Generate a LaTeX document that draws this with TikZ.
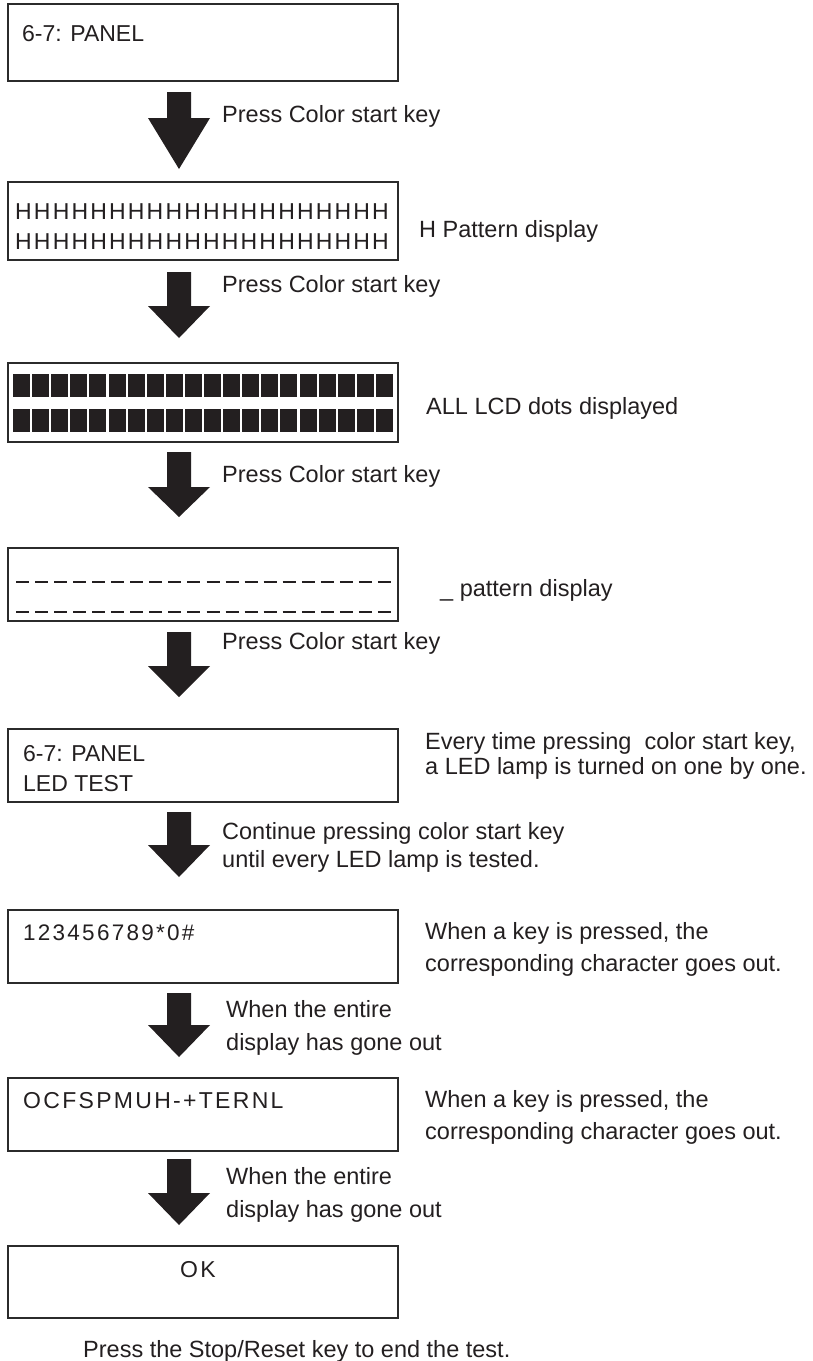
\documentclass[tikz,border=0pt]{standalone}
\usepackage{fontspec}
\setmainfont{Liberation Sans}
\newfontfamily\lcdfont[LetterSpace=10]{Liberation Sans}
\newfontfamily\hfont[LetterSpace=9.5]{Liberation Sans}
\definecolor{ink}{HTML}{231F20}
\definecolor{edge}{HTML}{2B2B2B}
\newcommand\blkarrow[3]{\fill[ink] (167,#1) -- (191,#1) -- (191,#2) -- (210,#2) -- (179,#3) -- (148,#2) -- (167,#2) -- cycle;}
\begin{document}
\begin{tikzpicture}[x=1pt,y=-1pt,
  box/.style={draw=edge,line width=2pt,anchor=north west,minimum width=390pt,inner sep=0pt,outer sep=0pt},
  lbl/.style={anchor=base west,inner sep=0pt,font=\fontsize{23.5}{28}\selectfont,text=ink},
  boxtxt/.style={anchor=base west,inner sep=0pt,font=\fontsize{23}{27}\selectfont,text=ink},
  lcdtxt/.style={anchor=base west,inner sep=0pt,text=ink},
  dot/.style={fill=ink},
  dashline/.style={draw=ink,line width=2.5pt,dash pattern=on 13pt off 6.05pt}
]
\useasboundingbox (0,0) rectangle (812,1361);
% box 1
\node[box,minimum height=77pt] (b1) at (8,4) {};
\node[boxtxt] (t1) at (22,41) {6-7: PANEL};
\blkarrow{92}{118}{169}
\node[lbl] (a1) at (222,122) {Press Color start key};
% box 2
\node[box,minimum height=78pt] (b2) at (8,182) {};
\node[lcdtxt,font=\hfont\fontsize{23}{27}\selectfont] (h1) at (15,219) {HHHHHHHHHHHHHHHHHHHH};
\node[lcdtxt,font=\hfont\fontsize{23}{27}\selectfont] (h2) at (15,249) {HHHHHHHHHHHHHHHHHHHH};
\node[lbl] (d2) at (419,237) {H Pattern display};
\blkarrow{272}{306}{338}
\node[lbl] (a2) at (222,292) {Press Color start key};
% box 3
\node[box,minimum height=79pt] (b3) at (8,363) {};
\foreach \i in {0,...,19} {
  \fill[dot] ({13+\i*19.1},374) rectangle ({30+\i*19.1},397);
  \fill[dot] ({13+\i*19.1},409) rectangle ({30+\i*19.1},432);
}
\node[lbl] (d3) at (426,414) {ALL LCD dots displayed};
\blkarrow{452}{487}{517}
\node[lbl] (a3) at (222,482) {Press Color start key};
% box 4
\node[box,minimum height=73pt] (b4) at (8,548) {};
\draw[dashline] (16,582) -- (391,582);
\draw[dashline] (16,612) -- (391,612);
\node[lbl] (d4) at (440,596) {\_ pattern display};
\blkarrow{632}{666}{697}
\node[lbl] (a4) at (222,649) {Press Color start key};
% box 5
\node[box,minimum height=73pt] (b5) at (8,729) {};
\node[boxtxt] (t5a) at (23,761) {6-7: PANEL};
\node[boxtxt] (t5b) at (23,791) {LED TEST};
\node[lbl] (d5a) at (425,749) {Every time pressing\ \ color start key,};
\node[lbl] (d5b) at (425,774) {a LED lamp is turned on one by one.};
\blkarrow{812}{845}{877}
\node[lbl] (a5a) at (222,839) {Continue pressing color start key};
\node[lbl] (a5b) at (222,867) {until every LED lamp is tested.};
% box 6
\node[box,minimum height=73pt] (b6) at (8,910) {};
\node[lcdtxt,font=\lcdfont\fontsize{22.5}{26}\selectfont] (t6) at (23,940) {123456789*0\#};
\node[lbl] (d6a) at (425,939) {When a key is pressed, the};
\node[lbl] (d6b) at (425,971) {corresponding character goes out.};
\blkarrow{993}{1025}{1057}
\node[lbl] (a6a) at (226,1017) {When the entire};
\node[lbl] (a6b) at (226,1050) {display has gone out};
% box 7
\node[box,minimum height=73pt] (b7) at (8,1078) {};
\node[lcdtxt,font=\lcdfont\fontsize{23}{27}\selectfont] (t7) at (23,1108) {OCFSPMUH-+TERNL};
\node[lbl] (d7a) at (425,1107) {When a key is pressed, the};
\node[lbl] (d7b) at (425,1139) {corresponding character goes out.};
\blkarrow{1159}{1193}{1225}
\node[lbl] (a7a) at (226,1184) {When the entire};
\node[lbl] (a7b) at (226,1217) {display has gone out};
% box 8
\node[box,minimum height=72pt] (b8) at (8,1246) {};
\node[lcdtxt,anchor=base,font=\lcdfont\fontsize{23}{27}\selectfont] (t8) at (198,1277) {OK};
\node[lbl] (fin) at (83,1357) {Press the Stop/Reset key to end the test.};
\end{tikzpicture}
\end{document}
